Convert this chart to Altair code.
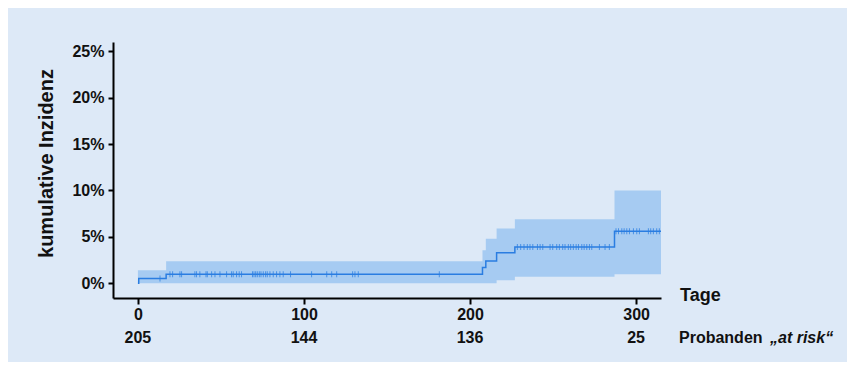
import altair as alt
import pandas as pd
import numpy as np

# Step curve (cumulative incidence, %)
step_days = [0, 0.5, 17, 207.5, 209.5, 216, 227, 287, 315]
cum_inc = [0, 0.49, 0.97, 1.7, 2.4, 3.27, 3.9, 5.6, 5.6]

# Confidence band
band_days = [0, 17, 207.5, 209.5, 216, 227, 287, 315]
band_upper = [1.4, 2.35, 3.55, 4.8, 5.9, 6.9, 10.0, 10.0]
band_lower = [0.0, 0.0, 0.0, 0.0, 0.32, 0.68, 0.97, 0.97]

# Censoring marks (days)
censor_days = [13.3, 19.3, 20.9, 25.3, 26.3, 34.3, 35.3, 37.3, 41.0, 41.8, 44.4, 46.4,
               49.4, 53.4, 56.4, 57.4, 59.4, 61.0, 62.4, 69.0, 69.9, 70.9, 71.9, 73.1,
               74.1, 75.5, 76.9, 77.9, 79.5, 81.5, 83.5, 85.5, 87.5, 91.9, 104.6, 113.7,
               116.7, 119.7, 129.3, 130.7, 132.7, 181.5,
               228.5, 230.5, 232.5, 234.5, 236.1, 237.8, 240.6, 242.2, 243.8, 248.2,
               249.8, 252.2, 253.8, 255.8, 257.2, 259.2, 260.6, 262.2, 263.9, 265.3,
               267.3, 268.7, 270.3, 271.9, 273.3, 277.9, 281.3, 283.9,
               287.9, 289.4, 291.4, 292.8, 294.4, 296.0, 298.4, 300.4, 302.0, 307.4,
               308.8, 310.4, 312.4, 314.0]

# Numbers at risk
risk_days = [0, 100, 200, 300]
risk_counts = ["205", "144", "136", "25"]

x_ticks = [0, 100, 200, 300]
y_ticks = [0, 5, 10, 15, 20, 25]

FONT = "Liberation Sans"
LINE = "#2a7de1"
BAND = "#a6cbf2"
BG = "#dde9f7"

line_df = pd.DataFrame({"day": step_days, "inc": cum_inc})
band_df = pd.DataFrame({"day": band_days, "lo": band_lower, "hi": band_upper})
idx = np.searchsorted(np.array(step_days), np.array(censor_days), side="right") - 1
cens_df = pd.DataFrame({"day": censor_days, "inc": [cum_inc[i] for i in idx]})
risk_df = pd.DataFrame({"day": risk_days, "n": risk_counts})

xscale = alt.Scale(domain=[-15, 315], nice=False, zero=False)
yscale = alt.Scale(domain=[-1.6, 26], nice=False, zero=False)

xaxis = alt.Axis(values=x_ticks, title=None, grid=False, domainColor="black",
                 domainWidth=2, tickColor="black", tickWidth=2, tickSize=6,
                 labelFont=FONT, labelFontSize=16, labelFontWeight="bold",
                 labelColor="#111", labelPadding=2)
yaxis = alt.Axis(values=y_ticks, title="kumulative Inzidenz", grid=False,
                 labelExpr="datum.value + '%'", domainColor="black", domainWidth=2,
                 tickColor="black", tickWidth=2, tickSize=5, labelPadding=4,
                 labelFont=FONT, labelFontSize=16, labelFontWeight="bold",
                 labelColor="#111", titleFont=FONT, titleFontSize=20,
                 titleFontWeight="bold", titleColor="#111", titlePadding=15,
                 titleY=121)

band = alt.Chart(band_df).mark_area(interpolate="step-after", color=BAND, opacity=1).encode(
    x=alt.X("day:Q", scale=xscale, axis=xaxis),
    y=alt.Y("lo:Q", scale=yscale, axis=yaxis),
    y2="hi:Q",
)

line = alt.Chart(line_df).mark_line(interpolate="step-after", color=LINE, strokeWidth=1.5).encode(
    x=alt.X("day:Q", scale=xscale),
    y=alt.Y("inc:Q", scale=yscale),
)

cens = alt.Chart(cens_df).mark_tick(orient="vertical", color=LINE, size=6, thickness=1, opacity=0.75).encode(
    x=alt.X("day:Q", scale=xscale),
    y=alt.Y("inc:Q", scale=yscale),
)

risk = alt.Chart(risk_df).mark_text(font=FONT, fontSize=16, fontWeight="bold",
                                   color="#111", baseline="middle", clip=False).encode(
    x=alt.X("day:Q", scale=xscale),
    y=alt.value(296),
    text="n:N",
)

tage = alt.Chart(pd.DataFrame({"t": ["Tage"]})).mark_text(
    font=FONT, fontSize=18, fontWeight="bold", color="#111", align="left", baseline="middle"
).encode(x=alt.value(567), y=alt.value(254), text="t:N")

prob1 = alt.Chart(pd.DataFrame({"t": ["Probanden"]})).mark_text(
    font=FONT, fontSize=16, fontWeight="bold", color="#111", align="left", baseline="middle"
).encode(x=alt.value(566), y=alt.value(296), text="t:N")

prob2 = alt.Chart(pd.DataFrame({"t": ["\u201eat risk\u201c"]})).mark_text(
    font=FONT, fontSize=16, fontWeight="bold", fontStyle="italic", color="#111",
    align="left", baseline="middle"
).encode(x=alt.value(657), y=alt.value(296), text="t:N")

chart = alt.layer(band, line, cens, risk, tage, prob1, prob2).properties(
    width=548, height=256,
    autosize=alt.AutoSizeParams(type="none"),
    padding={"left": 105, "top": 34, "right": 186, "bottom": 64},
    background=BG,
).configure_view(stroke=None)

chart.save("out.html", embed_options={"renderer": "svg", "actions": False})
